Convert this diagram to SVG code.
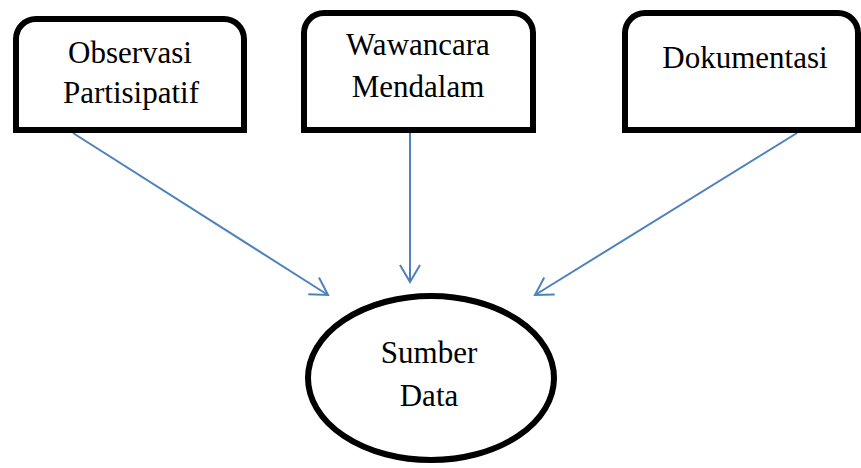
<svg xmlns="http://www.w3.org/2000/svg" width="861" height="468" viewBox="0 0 861 468">
<defs>
<style>
.box{fill:#fff;stroke:#000;stroke-width:6;}
.txt{font-family:"Liberation Serif","Times New Roman",serif;font-size:31px;fill:#000;text-anchor:middle;}
.conn{stroke:#4f81bd;stroke-width:2;fill:none;}
</style>
<marker id="arr" markerUnits="userSpaceOnUse" markerWidth="30" markerHeight="30" viewBox="-20 -15 25 30" refX="0" refY="0" orient="auto">
<path d="M-17,-10 L0,0 L-17,10" fill="none" stroke="#4f81bd" stroke-width="2"/>
</marker>
</defs>
<rect width="861" height="468" fill="#fff"/>
<g id="connectors">
<line class="conn" x1="73" y1="133" x2="328" y2="295" marker-end="url(#arr)"/>
<line class="conn" x1="410" y1="133" x2="410" y2="282" marker-end="url(#arr)"/>
<line class="conn" x1="797" y1="133" x2="535" y2="295" marker-end="url(#arr)"/>
</g>
<g id="node-observasi">
<path class="box" d="M16,130 V39 A20,20 0 0 1 36,19 H224 A20,20 0 0 1 244,39 V130 Z"/>
<text class="txt" x="130" y="63">Observasi</text>
<text class="txt" x="131" y="103">Partisipatif</text>
</g>
<g id="node-wawancara">
<path class="box" d="M304,130 V33 A20,20 0 0 1 324,13 H513 A20,20 0 0 1 533,33 V130 Z"/>
<text class="txt" x="418" y="55">Wawancara</text>
<text class="txt" x="418" y="97">Mendalam</text>
</g>
<g id="node-dokumentasi">
<path class="box" d="M625,130 V33 A20,20 0 0 1 645,13 H838 A20,20 0 0 1 858,33 V130 Z"/>
<text class="txt" x="745" y="68">Dokumentasi</text>
</g>
<g id="node-sumber">
<ellipse class="box" cx="431" cy="378" rx="123" ry="82"/>
<text class="txt" x="429" y="363">Sumber</text>
<text class="txt" x="429" y="406">Data</text>
</g>
</svg>
